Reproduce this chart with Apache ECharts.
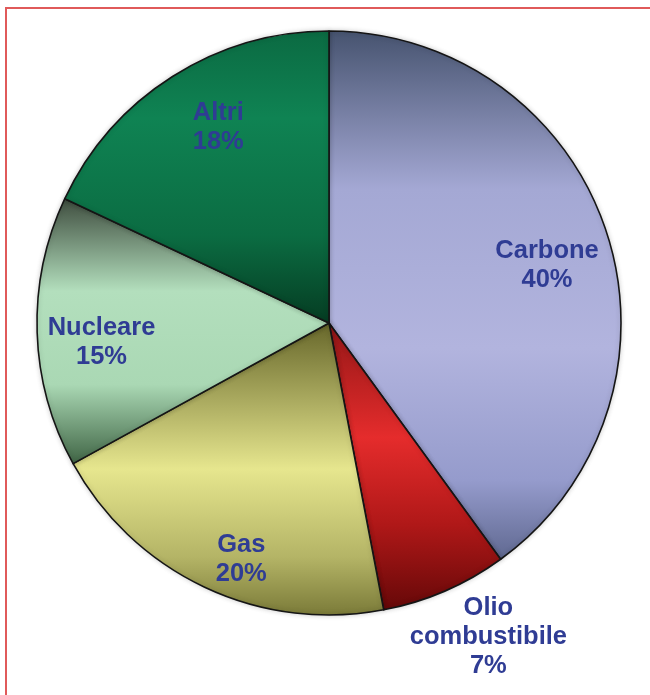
<!DOCTYPE html>
<html>
<head>
<meta charset="utf-8">
<script src="https://cdn.jsdelivr.net/npm/echarts@6/dist/echarts.min.js"></script>
<style>
html,body{margin:0;padding:0;background:#fff;}
#chart{width:650px;height:695px;}
</style>
</head>
<body>
<div id="chart"></div>
<script>
// Data
var categories = ['Carbone', 'Olio combustibile', 'Gas', 'Nucleare', 'Altri'];
var values = [40, 7, 20, 15, 18];

// Styles (not data)
var gradients = [
  [[0,'#46536f'],[0.3,'#a4a8d4'],[0.6,'#b2b4de'],[0.85,'#959bcc'],[1,'#5f6890']],
  [[0,'#921616'],[0.4,'#e52c2c'],[0.7,'#b01818'],[1,'#650808']],
  [[0,'#66662a'],[0.5,'#e6e68e'],[0.8,'#b4b466'],[1,'#7a7a38']],
  [[0,'#3e4c3e'],[0.35,'#b3dfbd'],[0.7,'#aad8b4'],[1,'#3f6444']],
  [[0,'#0b6a42'],[0.3,'#0f8353'],[0.7,'#0b6c42'],[1,'#053c22']]
];
// small label nudges (px) to follow the reference placement
var labelNudge = [[-7,16],[19,-10],[13,22],[9,12],[16,4]];
var CX = 329, CY = 323, R = 292;
var labelColor = '#2f3c94';
var labelFont = {fontFamily:'Liberation Sans, Arial, sans-serif', fontWeight:'bold', fontSize:25.5, lineHeight:29, color:labelColor};

function grad(stops){
  return new echarts.graphic.LinearGradient(0,0,0,1, stops.map(function(s){return {offset:s[0], color:s[1]};}));
}

var mainData = categories.map(function(n,i){
  return {name:n, value:values[i], itemStyle:{color:grad(gradients[i])}};
});
function fmt(p){ return p.name.replace(' ', '\n') + '\n' + p.value + '%'; }
function nudge(params){
  var d = labelNudge[params.dataIndex];
  return {dx:d[0], dy:d[1]};
}

var innerLabelData = categories.map(function(n,i){
  return {name:n, value:values[i], label:{show: i !== 1}};
});
var outerLabelData = categories.map(function(n,i){
  return {name:n, value:values[i], label:{show: i === 1}};
});

var chart = echarts.init(document.getElementById('chart'), null, {renderer:'canvas'});
chart.setOption({
  animation:false,
  backgroundColor:'#ffffff',
  graphic:[{
    type:'polyline',
    shape:{points:[[6,695],[6,8],[650,8]]},
    style:{stroke:'#e05a5a', lineWidth:2, fill:null},
    silent:true
  }],
  series:[
    {
      type:'pie',
      center:[CX,CY],
      radius:[0,R],
      startAngle:90,
      clockwise:true,
      label:{show:false},
      labelLine:{show:false},
      emphasis:{disabled:true},
      itemStyle:{borderColor:'#151515', borderWidth:1.6, shadowColor:'rgba(0,0,0,0.18)', shadowBlur:5},
      data:mainData
    },
    {
      type:'pie',
      center:[CX,CY],
      radius:[R*0.6,R*1.0],
      startAngle:90,
      silent:true,
      itemStyle:{color:'rgba(0,0,0,0)', borderWidth:0},
      label:Object.assign({position:'inside', formatter:fmt, align:'center'}, labelFont),
      labelLine:{show:false},
      labelLayout:nudge,
      emphasis:{disabled:true},
      data:innerLabelData
    },
    {
      type:'pie',
      center:[CX,CY],
      radius:[R*1.1,R*1.3],
      startAngle:90,
      silent:true,
      itemStyle:{color:'rgba(0,0,0,0)', borderWidth:0},
      label:Object.assign({position:'inside', formatter:fmt, align:'center'}, labelFont),
      labelLine:{show:false},
      labelLayout:nudge,
      emphasis:{disabled:true},
      data:outerLabelData
    }
  ]
});
</script>
</body>
</html>
